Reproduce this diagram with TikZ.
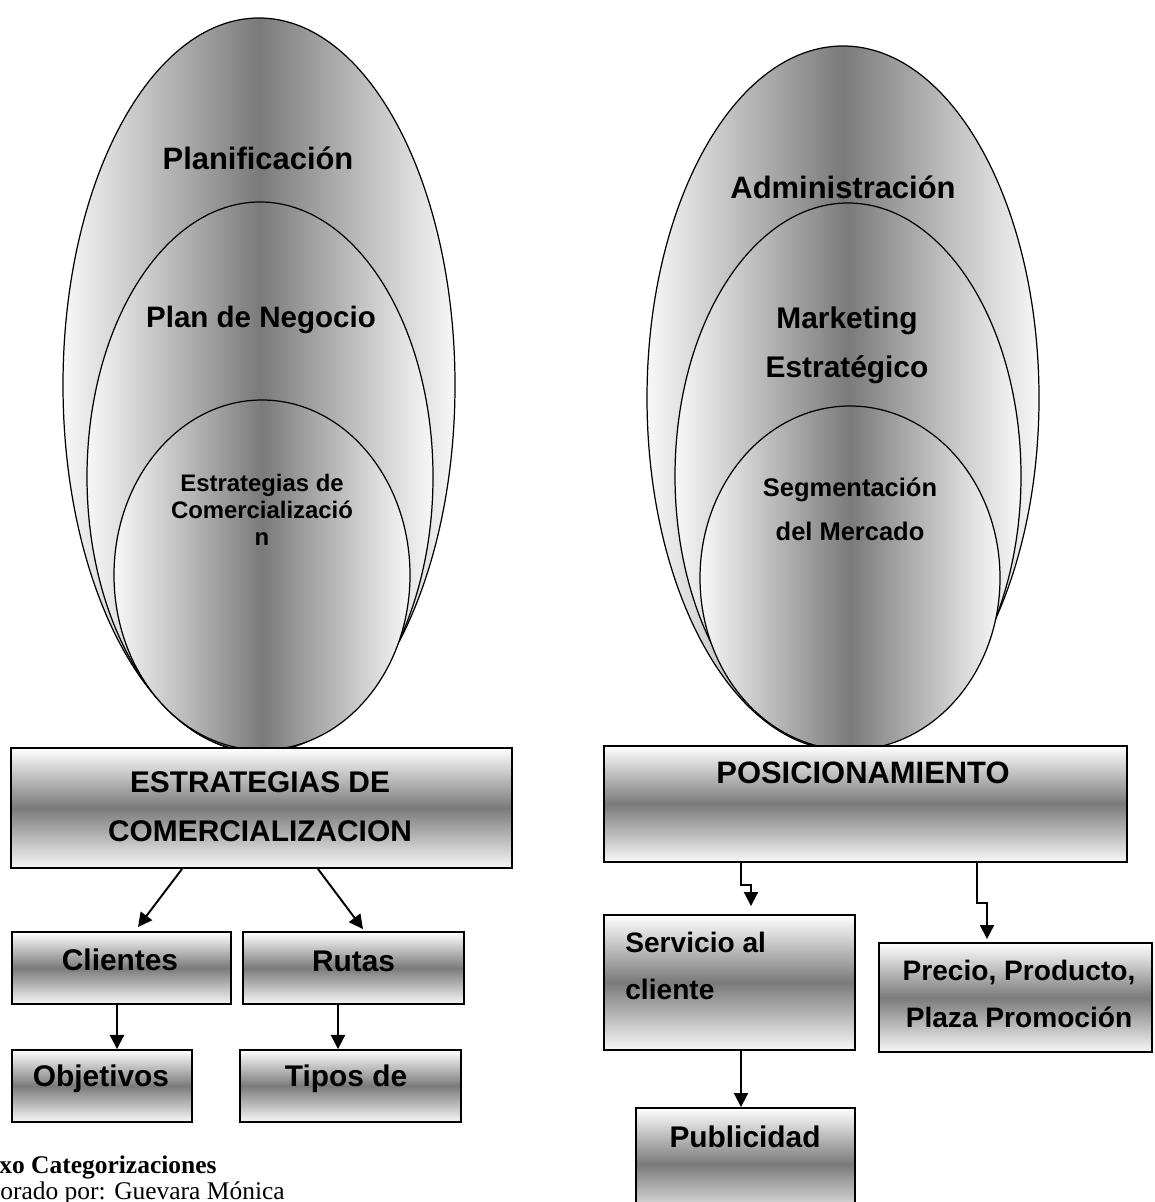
\documentclass[tikz,border=0pt]{standalone}
\usepackage{fontspec}
\setmainfont{Liberation Sans}
\newfontfamily\capfont{Liberation Serif}
\usetikzlibrary{arrows.meta}

\begin{document}
\begin{tikzpicture}[x=0.02cm, y=-0.02cm,
    ell/.style = {draw, line width=0.7pt, left color=black!3, right color=black!3, middle color=black!52},
    box/.style = {draw, line width=1.1pt, inner sep=0pt, top color=white, bottom color=black!3, middle color=black!52},
    lbl/.style = {font=\bfseries\fontsize{17}{28}\selectfont, align=center, inner sep=0pt},
    big/.style = {font=\bfseries\fontsize{17.6}{28}\selectfont},
    arr/.style = {-{Triangle[width=8pt,length=8pt]}, line width=1.1pt}]
    \useasboundingbox (0,0) rectangle (1154,1202);
    \clip (0,0) rectangle (1154,1202);

    % left ellipses
    \path[ell] (259,385) ellipse [x radius=196, y radius=367];
    \path[ell] (260,477) ellipse [x radius=173, y radius=275];
    \path[ell] (262,575) ellipse [x radius=148, y radius=175];
    % right ellipses
    \path[ell] (843,398) ellipse [x radius=196, y radius=352];
    \path[ell] (848,476) ellipse [x radius=173, y radius=273];
    \path[ell] (850,578) ellipse [x radius=150, y radius=172];

    % boxes
    \node[box, minimum width=10.02cm, minimum height=2.4cm] (estr) at (261.5,808) {};
    \node[box, minimum width=10.46cm, minimum height=2.32cm] (pos) at (865.5,804) {};
    \node[box, minimum width=4.38cm, minimum height=1.44cm] (cli) at (121.5,968) {};
    \node[box, minimum width=4.42cm, minimum height=1.44cm] (rut) at (353.5,968) {};
    \node[box, minimum width=3.6cm, minimum height=1.44cm] (obj) at (102,1086) {};
    \node[box, minimum width=4.42cm, minimum height=1.44cm] (tip) at (350.5,1086) {};
    \node[box, minimum width=5.02cm, minimum height=2.7cm] (ser) at (729.5,982.5) {};
    \node[box, minimum width=5.46cm, minimum height=2.18cm] (pre) at (1015.5,997.5) {};
    \node[box, minimum width=4.38cm, minimum height=2.24cm] (pub) at (745.5,1164) {};

    % texts
    \node[lbl, big] (planif) at (258,158) {Planificación};
    \node[lbl, font=\bfseries\fontsize{16.8}{28}\selectfont] (plan) at (261,320) {Plan de Negocio};
    \node[lbl, font=\bfseries\fontsize{13.6}{15.5}\selectfont] (estrel) at (262,510) {Estrategias de\\Comercializació\\n};
    \node[lbl, big] (admin) at (843,187) {Administración};
    \node[lbl] (mkt) at (847,345) {Marketing\\Estratégico};
    \node[lbl, font=\bfseries\fontsize{14.5}{25}\selectfont] (segm) at (850,509) {Segmentación\\del Mercado};
    \node[lbl] (estrT) at (260,807) {ESTRATEGIAS DE\\COMERCIALIZACION};
    \node[lbl, big] (posT) at (863,773) {POSICIONAMIENTO};
    \node[lbl] (cliT) at (120,960) {Clientes};
    \node[lbl] (rutT) at (353.5,961) {Rutas};
    \node[lbl] (objT) at (101,1079) {Objetivos};
    \node[lbl] (tipT) at (346,1079) {Tipos de};
    \node[lbl, align=left, anchor=west, font=\bfseries\fontsize{16}{27}\selectfont] (serT) at (625,966) {Servicio al\\cliente};
    \node[lbl, font=\bfseries\fontsize{16}{27}\selectfont] (preT) at (1019,994) {Precio, Producto,\\Plaza Promoción};
    \node[lbl] (pubT) at (745,1137) {Publicidad};

    \node[anchor=base west, inner sep=0pt, font=\capfont\bfseries\fontsize{14.5}{17}\selectfont] (anexo) at (-1,1173) {xo Categorizaciones};
    \node[anchor=base west, inner sep=0pt, font=\capfont\fontsize{14.5}{17}\selectfont] (autor) at (0,1199) {orado por: Guevara Mónica};

    % connectors
    \draw[arr] ([xshift=-1.59cm]estr.south) -- ([xshift=0.33cm, yshift=0.08cm]cli.north);
    \draw[arr] ([xshift=1.13cm]estr.south) -- ([xshift=0.19cm, yshift=0.04cm]rut.north);
    \draw[arr] ([xshift=-0.09cm]cli.south) -- ([xshift=0.3cm]obj.north);
    \draw[arr] ([xshift=-0.31cm]rut.south) -- ([xshift=-0.25cm]tip.north);
    \draw[arr] ([xshift=-2.49cm]pos.south) -- ++(0,-0.44cm) -| ([xshift=0.43cm, yshift=0.16cm]ser.north);
    \draw[arr] ([xshift=2.23cm]pos.south) -- ++(0,-0.8cm) -| ([xshift=-0.57cm, yshift=0.06cm]pre.north);
    \draw[arr] ([xshift=0.23cm]ser.south) -- ([xshift=-0.09cm]pub.north);
\end{tikzpicture}
\end{document}
